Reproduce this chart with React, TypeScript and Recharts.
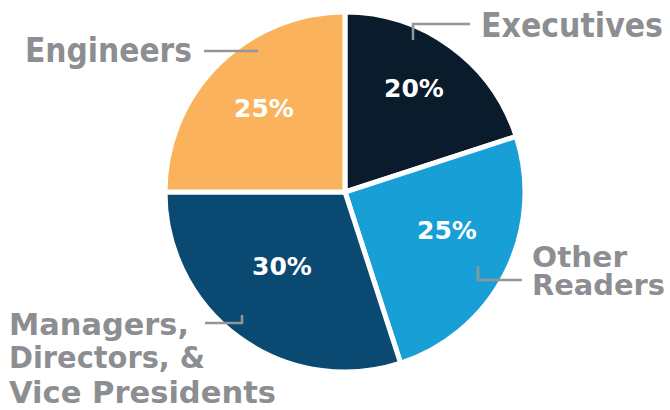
import React from 'react';
import { PieChart, Pie, Cell } from 'recharts';

const categories = ['Executives', 'Other Readers', 'Managers, Directors, & Vice Presidents', 'Engineers'];
const values = [20, 25, 30, 25];
const colors = ['#0a1b2c', '#189fd6', '#0a4a72', '#fbb25c'];

const data = categories.map((name, i) => ({ name, value: values[i] }));

const GRAY = '#8d8e91';
const LINE = '#939598';
const FONT = '"DejaVu Sans", sans-serif';

type Layout = {
  pct: [number, number];
  lines: { dx: number; dy: number; size: number; len: number; text: string }[];
  leader: [number, number][];
};

// offsets relative to pie centre
const LAYOUT: Layout[] = [
  {
    pct: [69, -104],
    lines: [{ dx: 136, dy: -155, size: 33, len: 182, text: 'Executives' }],
    leader: [[68, -152], [68, -168], [125, -168]],
  },
  {
    pct: [102, 38],
    lines: [
      { dx: 187, dy: 75, size: 29, len: 95, text: 'Other' },
      { dx: 187, dy: 103, size: 29, len: 133, text: 'Readers' },
    ],
    leader: [[133, 74], [133, 88], [177, 88]],
  },
  {
    pct: [-63, 74],
    lines: [
      { dx: -336, dy: 143, size: 30, len: 180, text: 'Managers,' },
      { dx: -336, dy: 176, size: 30, len: 196, text: 'Directors, &' },
      { dx: -336, dy: 211, size: 30, len: 267, text: 'Vice Presidents' },
    ],
    leader: [[-140, 131], [-103, 131], [-103, 123]],
  },
  {
    pct: [-81, -84],
    lines: [{ dx: -320, dy: -130, size: 33, len: 167, text: 'Engineers' }],
    leader: [[-141, -141], [-87, -141]],
  },
];

const renderLabel = (props: any) => {
  const { cx, cy, index, value } = props;
  const l = LAYOUT[index];
  return (
    <g key={`lbl-${index}`}>
      <text
        x={cx + l.pct[0]}
        y={cy + l.pct[1]}
        fill="#ffffff"
        fontFamily={FONT}
        fontWeight="bold"
        fontSize={25}
        textAnchor="middle"
        dominantBaseline="central"
      >
        {`${value}%`}
      </text>
      <polyline
        points={l.leader.map(([x, y]) => `${cx + x},${cy + y}`).join(' ')}
        fill="none"
        stroke={LINE}
        strokeWidth={2.5}
      />
      {l.lines.map((ln, j) => (
        <text
          key={j}
          x={cx + ln.dx}
          y={cy + ln.dy}
          fill={GRAY}
          fontFamily={FONT}
          fontWeight="bold"
          fontSize={ln.size}
          textLength={ln.len}
          lengthAdjust="spacingAndGlyphs"
        >
          {ln.text}
        </text>
      ))}
    </g>
  );
};

export default function App() {
  return (
    <div style={{ position: 'absolute', left: 0, top: 0, width: 670, height: 410, background: '#ffffff' }}>
      <PieChart width={670} height={410} margin={{ top: 0, right: 0, bottom: 0, left: 0 }}>
        <Pie
          data={data}
          dataKey="value"
          nameKey="name"
          cx={345}
          cy={192}
          outerRadius={180}
          startAngle={90}
          endAngle={-270}
          stroke="#ffffff"
          strokeWidth={5}
          label={renderLabel}
          labelLine={false}
          isAnimationActive={false}
        >
          {data.map((d, i) => (
            <Cell key={d.name} fill={colors[i]} />
          ))}
        </Pie>
      </PieChart>
    </div>
  );
}
